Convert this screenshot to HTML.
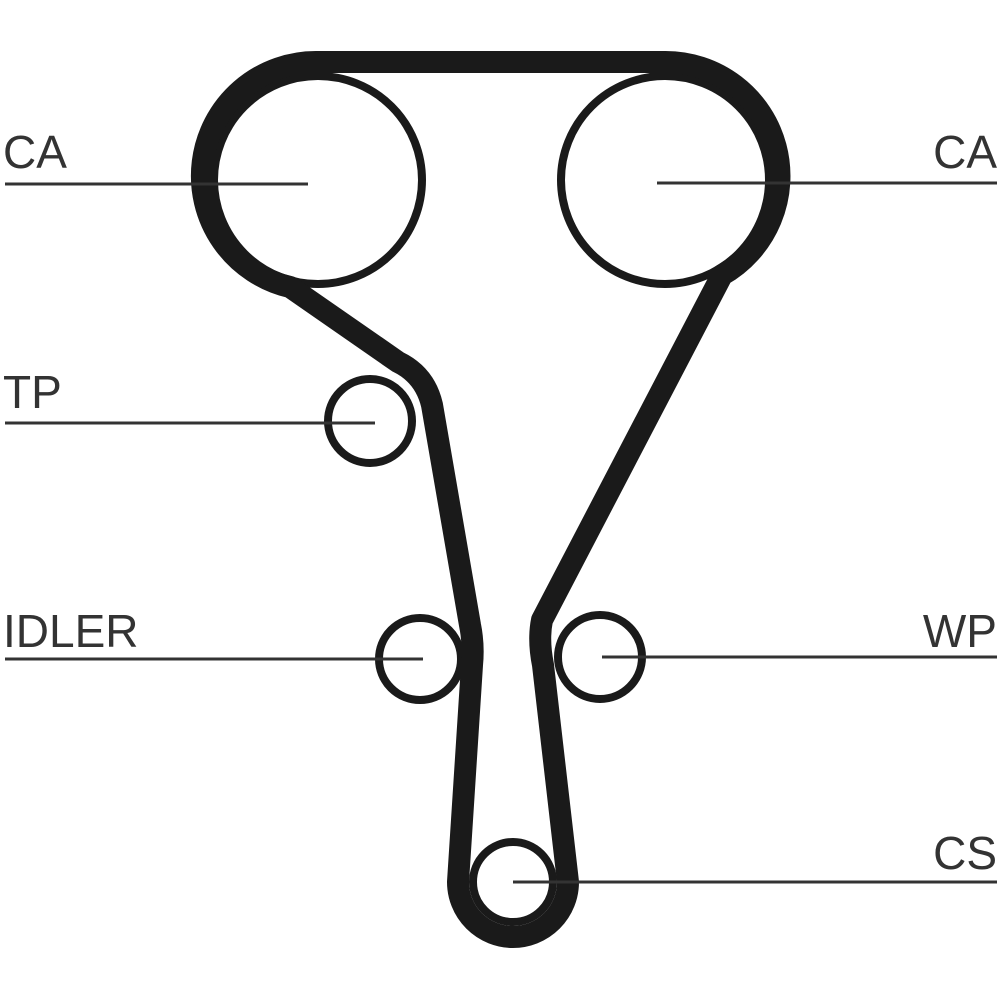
<!DOCTYPE html>
<html><head><style>html,body{margin:0;padding:0;background:#fff}svg{display:block}</style></head>
<body>
<svg width="1000" height="1000" viewBox="0 0 1000 1000" xmlns="http://www.w3.org/2000/svg">
<g fill="#fff" stroke="#1a1a1a" stroke-width="8">
<circle cx="318" cy="180" r="104"/>
<circle cx="665" cy="180" r="104"/>
<circle cx="370" cy="421" r="42"/>
<circle cx="420" cy="659" r="41"/>
<circle cx="600" cy="657" r="42"/>
<circle cx="513" cy="882" r="40"/>
</g>
<path d="M318 62 L665 62 A114 114 0 0 1 722 275 L542 620 Q538 640 543 665 L568 882 A55 55 0 0 1 458 882 L472 665 Q474 645 470 625 L432 405 Q425 375 398 362 L290 287 A114 114 0 0 1 318 62 Z" fill="none" stroke="#1a1a1a" stroke-width="22" stroke-linejoin="round"/>
<g stroke="#333" stroke-width="3">
<line x1="5" y1="184" x2="308" y2="184"/>
<line x1="657" y1="183" x2="997" y2="183"/>
<line x1="5" y1="423" x2="375" y2="423"/>
<line x1="5" y1="659" x2="423" y2="659"/>
<line x1="602" y1="657" x2="997" y2="657"/>
<line x1="513" y1="882" x2="997" y2="882"/>
</g>
<g font-family="Liberation Sans, sans-serif" font-size="46" fill="#333">
<text x="3" y="168">CA</text>
<text x="997" y="168" text-anchor="end">CA</text>
<text x="3" y="408">TP</text>
<text x="3" y="647">IDLER</text>
<text x="997" y="647" text-anchor="end">WP</text>
<text x="997" y="869" text-anchor="end">CS</text>
</g>
</svg>
</body></html>
